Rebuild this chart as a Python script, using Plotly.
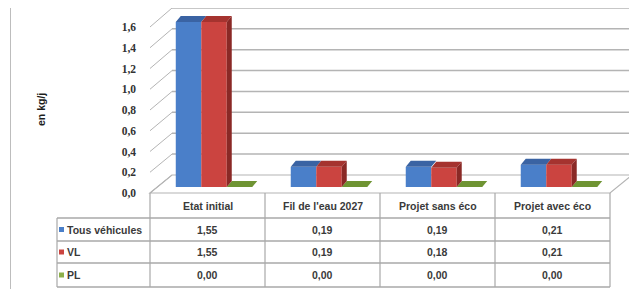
import plotly.graph_objects as go

# ---------------- data ----------------
categories = ["Etat initial", "Fil de l'eau 2027", "Projet sans éco", "Projet avec éco"]
series_names = ["Tous véhicules", "VL", "PL"]
tous_vehicules = [1.55, 0.19, 0.19, 0.21]
vl = [1.55, 0.19, 0.18, 0.21]
pl = [0.00, 0.00, 0.00, 0.00]
y_ticks = [0.0, 0.2, 0.4, 0.6, 0.8, 1.0, 1.2, 1.4, 1.6]
y_title = "en kg/j"

series_values = [tous_vehicules, vl, pl]

# ---------------- style / geometry ----------------
OFF = 8                      # page body margin
W, H = 637 - OFF, 289 - OFF
ML, MR, MT, MB = 140, 5, 0, 96
PW, PH = W - ML - MR, H - MT - MB

front_col = ["#4A7FC9", "#CB4440", "#8DB04A"]
top_col = ["#3A63A3", "#A5332F", "#6F9433"]
side_col = ["#2F5288", "#8A2926", "#5E7F2A"]
grid_col = "#B4B4B4"
table_col = "#A8A8A8"
text_col = "#3A3A3A"
FONT = "Liberation Sans"

bargap = 0.335
n = len(series_values)
w = (1 - bargap) / n
X_RANGE = [-0.574, 3.635]
Y_BAR_RANGE = [-0.0564, 1.6815]   # bar front faces
Y_WALL_RANGE = [-0.1725, 1.6]     # back wall gridlines
Y_LAB_RANGE = [0.0, 1.7831]       # front wall labels

px_per_x = PW / (X_RANGE[1] - X_RANGE[0])
px_per_y = PH / (Y_BAR_RANGE[1] - Y_BAR_RANGE[0])
dx = 5 / px_per_x
dy = 6 / px_per_y

BOTTOM = H - MB + OFF  # screen y of plot bottom


def px(rx):
    return (rx - OFF - ML) / PW


def py(ry):
    return (BOTTOM - ry) / PH


def wall_py(v):
    return BOTTOM - (v - Y_WALL_RANGE[0]) / (Y_WALL_RANGE[1] - Y_WALL_RANGE[0]) * PH


def lab_py(v):
    return BOTTOM - (v - Y_LAB_RANGE[0]) / (Y_LAB_RANGE[1] - Y_LAB_RANGE[0]) * PH


fig = go.Figure()

xs = list(range(len(categories)))

# bar front faces
for j, (name, vals) in enumerate(zip(series_names, series_values)):
    fig.add_trace(go.Bar(
        x=xs, y=vals, name=name, marker=dict(color=front_col[j], line=dict(width=0)),
        showlegend=False, hoverinfo="skip",
    ))


def face_trace(xs_list, ys_list, color):
    return go.Scatter(x=xs_list, y=ys_list, mode="lines", fill="toself",
                      fillcolor=color, line=dict(width=0, color=color),
                      showlegend=False, hoverinfo="skip")


def top_face(j):
    fx, fy = [], []
    for i, v in zip(xs, series_values[j]):
        x0 = i - (1 - bargap) / 2 + j * w
        x1 = x0 + w
        fx += [x0, x1, x1 + dx, x0 + dx, x0, None]
        fy += [v, v, v + dy, v + dy, v, None]
    return face_trace(fx, fy, top_col[j])


def side_face(j):
    fx, fy = [], []
    for i, v in zip(xs, series_values[j]):
        x1 = i - (1 - bargap) / 2 + (j + 1) * w
        fx += [x1, x1, x1 + dx, x1 + dx, x1, None]
        fy += [0, v, v + dy, dy, 0, None]
    return face_trace(fx, fy, side_col[j])


fig.add_trace(top_face(0))
fig.add_trace(top_face(2))
fig.add_trace(top_face(1))
fig.add_trace(side_face(1))

# invisible carrier so the label axis is drawn
fig.add_trace(go.Scatter(x=[X_RANGE[0]] * len(y_ticks), y=y_ticks, yaxis="y3", mode="markers",
                         marker=dict(opacity=0), showlegend=False, hoverinfo="skip"))

shapes = []
# floor
shapes.append(dict(type="path", xref="paper", yref="paper",
                   path=f"M {px(150)},{py(193)} L {px(610)},{py(193)} L {px(632)},{py(175)} L {px(172)},{py(175)} Z",
                   line=dict(color=grid_col, width=1.2), fillcolor="white", layer="below"))
# back wall gridlines and side wall diagonals
for v in y_ticks:
    if v > 0:
        shapes.append(dict(type="line", xref="paper", yref="paper",
                           x0=px(172), x1=px(632), y0=py(wall_py(v)), y1=py(wall_py(v)),
                           line=dict(color=grid_col, width=1.5), layer="below"))
    shapes.append(dict(type="line", xref="paper", yref="paper",
                       x0=px(150), x1=px(172), y0=py(lab_py(v)), y1=py(wall_py(v)),
                       line=dict(color=grid_col, width=1.0), layer="below"))

# data table
col_edges = [150, 265, 380, 495, 610]
row_edges = [193, 218, 241, 263, 287]
label_left = 57
for yy in row_edges[1:]:
    shapes.append(dict(type="line", xref="paper", yref="paper",
                       x0=px(label_left), x1=px(col_edges[-1]), y0=py(yy), y1=py(yy),
                       line=dict(color=table_col, width=1.6)))
for xx in col_edges:
    shapes.append(dict(type="line", xref="paper", yref="paper",
                       x0=px(xx), x1=px(xx), y0=py(row_edges[0]), y1=py(row_edges[-1]),
                       line=dict(color=table_col, width=1.2)))
shapes.append(dict(type="line", xref="paper", yref="paper",
                   x0=px(label_left), x1=px(label_left), y0=py(row_edges[1]), y1=py(row_edges[-1]),
                   line=dict(color=table_col, width=1.2)))
# outer chart border (left)
shapes.append(dict(type="line", xref="paper", yref="paper",
                   x0=px(10.5), x1=px(10.5), y0=py(OFF), y1=py(289),
                   line=dict(color="#BDBDBD", width=1)))

annotations = []
TFS = 10.5
for c, cat in enumerate(categories):
    cx = (col_edges[c] + col_edges[c + 1]) / 2
    annotations.append(dict(x=px(cx), y=py((row_edges[0] + row_edges[1]) / 2 + 1), xref="paper", yref="paper",
                            xanchor="center", yanchor="middle",
                            text=f"<b>{cat}</b>", showarrow=False,
                            font=dict(family=FONT, size=TFS, color=text_col)))
for r, (name, vals) in enumerate(zip(series_names, series_values)):
    cy = (row_edges[r + 1] + row_edges[r + 2]) / 2
    shapes.append(dict(type="rect", xref="paper", yref="paper",
                       x0=px(59), x1=px(64), y0=py(cy + 2.5), y1=py(cy - 2.5),
                       fillcolor=front_col[r], line=dict(width=0)))
    annotations.append(dict(x=px(64.5), y=py(cy), xref="paper", yref="paper",
                            xanchor="left", yanchor="middle",
                            text=f"<b>{name}</b>", showarrow=False,
                            font=dict(family=FONT, size=TFS, color=text_col)))
    for c, v in enumerate(vals):
        cx = (col_edges[c] + col_edges[c + 1]) / 2
        annotations.append(dict(x=px(cx), y=py(cy), xref="paper", yref="paper",
                                xanchor="center", yanchor="middle",
                                text="<b>" + f"{v:.2f}".replace(".", ",") + "</b>", showarrow=False,
                                font=dict(family=FONT, size=TFS, color=text_col)))

# y axis title
annotations.append(dict(x=px(41), y=py(110), xref="paper", yref="paper", text=f"<b>{y_title}</b>",
                        xanchor="center", yanchor="middle",
                        textangle=-90, showarrow=False, font=dict(family=FONT, size=10.5, color="#1E1E1E")))

fig.update_layout(
    width=W, height=H,
    margin=dict(l=ML, r=MR, t=MT, b=MB, pad=0),
    paper_bgcolor="white", plot_bgcolor="rgba(0,0,0,0)",
    barmode="group", bargap=bargap, bargroupgap=0,
    separators=", ",
    showlegend=False,
    xaxis=dict(range=X_RANGE, showgrid=False, zeroline=False, showticklabels=False, showline=False,
               fixedrange=True),
    yaxis=dict(range=Y_BAR_RANGE, showgrid=False, zeroline=False, showticklabels=False, showline=False),
    yaxis2=dict(range=Y_WALL_RANGE, overlaying="y", showgrid=False, zeroline=False, showticklabels=False),
    yaxis3=dict(range=Y_LAB_RANGE, overlaying="y", side="left", anchor="x", tickvals=y_ticks,
                tickformat=".1f", showgrid=False, zeroline=False, showline=False, ticks="",
                ticklabelstandoff=11,
                tickfont=dict(family="Liberation Serif", size=11.5, color="#333333", weight="bold")),
    shapes=shapes,
    annotations=annotations,
)

fig.write_html("out.html")
